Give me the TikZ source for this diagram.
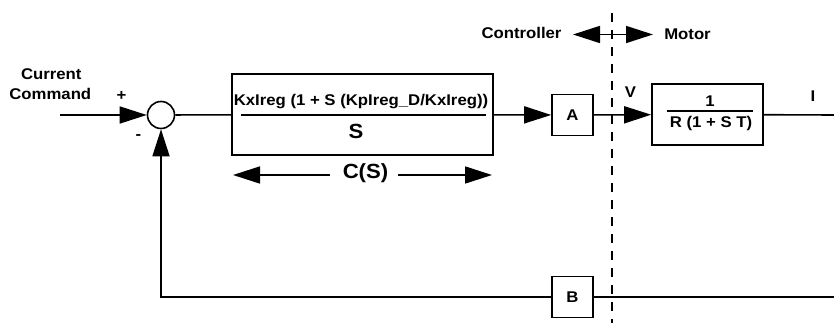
\documentclass[tikz,border=0pt]{standalone}
\usepackage{fontspec}
\setmainfont{Liberation Sans}[FakeStretch=1.08]
\usetikzlibrary{arrows.meta}
\begin{document}
\begin{tikzpicture}[x=1pt,y=-1pt,
  wire/.style={line width=1.6pt},
  tri/.tip={Triangle[length=27pt,width=17pt]},
  arr/.style={wire,-tri},
  blk/.style={draw,line width=1.6pt,inner sep=0pt,font=\bfseries\fontsize{15.5}{18}\selectfont},
  lbl/.style={font=\bfseries\fontsize{15.5}{20}\selectfont,inner sep=0pt,anchor=base},
  big/.style={font=\bfseries\fontsize{20.5}{24}\selectfont,inner sep=0pt,anchor=base},
  divider/.style={line width=1.1pt,dash pattern=on 9pt off 8pt},
]
\useasboundingbox (0,0) rectangle (834,323);

% blocks
\node[blk, circle, minimum size=27pt] (sum) at (161,115) {};
\node[blk, minimum width=261pt, minimum height=81pt] (pi) at (362.5,114.5) {};
\node[blk, minimum width=41pt, minimum height=41pt] (a) at (572.5,115) {A};
\node[blk, minimum width=111pt, minimum height=61pt] (motor) at (707.5,114.5) {};
\node[blk, minimum width=41pt, minimum height=41pt] (b) at (572.5,297) {B};

% block texts
\node[lbl] (num) at (361,105.7) {KxIreg (1 + S (KpIreg\_D/KxIreg))};
\node[big] (den) at (356,139) {S};
\coordinate (f1l) at (241,115);
\coordinate (f1r) at (486,115);
\draw[wire] (f1l) -- (f1r);
\node[lbl] (one) at (710,106.5) {1};
\node[lbl] (rst) at (711,128) {R (1 + S T)};
\coordinate (f2l) at (667,111);
\coordinate (f2r) at (753,111);
\draw[wire] (f2l) -- (f2r);

% labels
\node[lbl] (cur1) at (51.3,80) {Current};
\node[lbl] (cur2) at (50.3,100) {Command};
\node[lbl] (plus) at (121.5,100.4) {+};
\node[lbl] (minus) at (138.5,140) {-};
\node[lbl] (v) at (630.5,98) {V};
\node[lbl] (i) at (813,102) {I};
\node[lbl] (ctrl) at (521.5,39) {Controller};
\node[lbl] (mot) at (687.5,39.5) {Motor};

% divider
\coordinate (dtop) at (612,13);
\coordinate (dbot) at (612,323);
\draw[divider] (dtop) -- (dbot);

% controller / motor arrow
\coordinate (cl) at (573,34.5);
\coordinate (cr) at (653,34.5);
\draw[wire,tri-tri] (cl) -- (cr);

% C(S) span arrow
\node[big] (cs) at (365.5,178.5) {C(S)};
\coordinate (csl0) at (330,175);
\coordinate (csr0) at (398,175);
\coordinate (csl) at (233,175);
\coordinate (csr) at (492,175);
\draw[arr] (csl0) -- (csl);
\draw[arr] (csr0) -- (csr);

% signal path
\coordinate (in) at (60,115);
\coordinate (out) at (834,115);
\draw[arr] (in) -- (sum);
\draw[wire] (sum) -- (pi);
\draw[arr] (pi) -- (a);
\draw[arr] (a) -- (motor);
\draw[wire] (motor) -- (out);

% feedback
\coordinate (fbout) at (834,297);
\coordinate (fb) at (161,297);
\draw[wire] (fbout) -- (b);
\draw[arr] (b) -- (fb) -- (sum);
\end{tikzpicture}
\end{document}
